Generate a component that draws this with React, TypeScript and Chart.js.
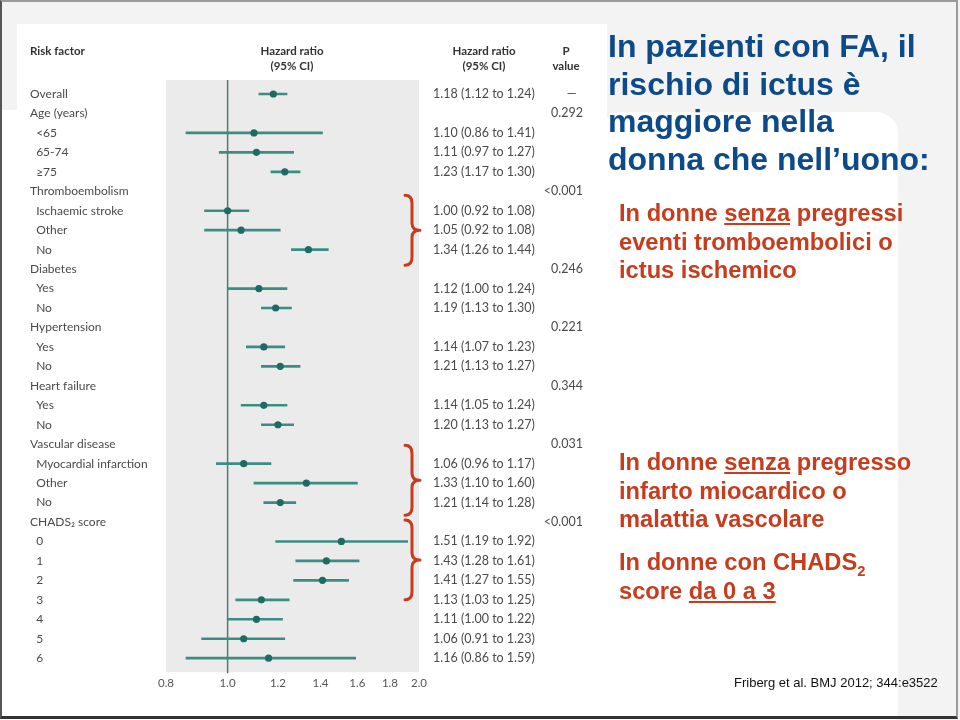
import React, { useEffect, useRef } from "react";
import { Chart, registerables } from "chart.js";

Chart.register(...registerables);

// ---- data ----
const rowLabels = [
  "Overall", "Age (years)", "<65", "65-74", "≥75",
  "Thromboembolism", "Ischaemic stroke", "Other", "No",
  "Diabetes", "Yes", "No",
  "Hypertension", "Yes", "No",
  "Heart failure", "Yes", "No",
  "Vascular disease", "Myocardial infarction", "Other", "No",
  "CHADS₂ score", "0", "1", "2", "3", "4", "5", "6",
];
const rowIndent = [0, 0, 1, 1, 1, 0, 1, 1, 1, 0, 1, 1, 0, 1, 1, 0, 1, 1, 0, 1, 1, 1, 0, 1, 1, 1, 1, 1, 1, 1];
const hrValues = [1.18, null, 1.10, 1.11, 1.23, null, 1.00, 1.05, 1.34, null, 1.12, 1.19, null, 1.14, 1.21, null, 1.14, 1.20, null, 1.06, 1.33, 1.21, null, 1.51, 1.43, 1.41, 1.13, 1.11, 1.06, 1.16];
const ciLow = [1.12, null, 0.86, 0.97, 1.17, null, 0.92, 0.92, 1.26, null, 1.00, 1.13, null, 1.07, 1.13, null, 1.05, 1.13, null, 0.96, 1.10, 1.14, null, 1.19, 1.28, 1.27, 1.03, 1.00, 0.91, 0.86];
const ciHigh = [1.24, null, 1.41, 1.27, 1.30, null, 1.08, 1.21, 1.44, null, 1.24, 1.26, null, 1.23, 1.30, null, 1.24, 1.27, null, 1.17, 1.60, 1.28, null, 1.92, 1.61, 1.55, 1.25, 1.22, 1.23, 1.59];
const hrText = [
  "1.18 (1.12 to 1.24)", "", "1.10 (0.86 to 1.41)", "1.11 (0.97 to 1.27)", "1.23 (1.17 to 1.30)",
  "", "1.00 (0.92 to 1.08)", "1.05 (0.92 to 1.08)", "1.34 (1.26 to 1.44)",
  "", "1.12 (1.00 to 1.24)", "1.19 (1.13 to 1.30)",
  "", "1.14 (1.07 to 1.23)", "1.21 (1.13 to 1.27)",
  "", "1.14 (1.05 to 1.24)", "1.20 (1.13 to 1.27)",
  "", "1.06 (0.96 to 1.17)", "1.33 (1.10 to 1.60)", "1.21 (1.14 to 1.28)",
  "", "1.51 (1.19 to 1.92)", "1.43 (1.28 to 1.61)", "1.41 (1.27 to 1.55)", "1.13 (1.03 to 1.25)",
  "1.11 (1.00 to 1.22)", "1.06 (0.91 to 1.23)", "1.16 (0.86 to 1.59)",
];
const pText = [
  "—\u2002", "0.292", "", "", "", "<0.001", "", "", "", "0.246", "", "", "0.221", "", "",
  "0.344", "", "", "0.031", "", "", "", "<0.001", "", "", "", "", "", "", "",
];
const xTicks = [0.8, 1.0, 1.2, 1.4, 1.6, 1.8, 2.0];
const braceRows = [[5.2, 8.8], [18.05, 21.65], [21.9, 26.0]];

const Y_MIN = -0.72;
const Y_MAX = 29.72;

export default function App() {
  const ref = useRef<HTMLCanvasElement>(null);

  useEffect(() => {
    const rows = rowLabels.map((_, i) => i);
    const pts: any[] = [];
    const bars: any[] = [];
    rows.forEach((i) => {
      if (hrValues[i] != null) {
        pts.push({ x: hrValues[i], y: i });
        bars.push({ x: [ciLow[i], ciHigh[i]], y: i });
      }
    });
    const setRowTicks = (s: any) => {
      s.ticks = rows.map((v) => ({ value: v }));
    };

    const bgPlugin = {
      id: "plotBg",
      beforeDraw(c: any) {
        const { ctx, chartArea: a } = c;
        ctx.save();
        ctx.fillStyle = "#ebebeb";
        ctx.fillRect(a.left, a.top, a.right - a.left, a.bottom - a.top);
        ctx.restore();
      },
      beforeDatasetsDraw(c: any) {
        const { ctx, chartArea: a } = c;
        const x = c.scales.x.getPixelForValue(1.0);
        ctx.save();
        ctx.strokeStyle = "#4a7d76";
        ctx.lineWidth = 1.5;
        ctx.beginPath();
        ctx.moveTo(x, a.top);
        ctx.lineTo(x, a.bottom + 1);
        ctx.stroke();
        ctx.restore();
      },
      afterDraw(c: any) {
        const { ctx, chartArea: a } = c;
        const ys = c.scales.y;
        ctx.save();
        ctx.strokeStyle = "#c63c1c";
        ctx.lineWidth = 3;
        ctx.lineCap = "round";
        ctx.lineJoin = "round";
        braceRows.forEach(([r0, r1]) => {
          const top = ys.getPixelForValue(r0);
          const bottom = ys.getPixelForValue(r1);
          const mid = (top + bottom) / 2;
          const x = a.right - 14;
          const w = 7;
          ctx.beginPath();
          ctx.moveTo(x, top);
          ctx.quadraticCurveTo(x + w, top, x + w, top + 8);
          ctx.lineTo(x + w, mid - 7);
          ctx.quadraticCurveTo(x + w, mid, x + w + 8, mid);
          ctx.quadraticCurveTo(x + w, mid, x + w, mid + 7);
          ctx.lineTo(x + w, bottom - 8);
          ctx.quadraticCurveTo(x + w, bottom, x, bottom);
          ctx.stroke();
        });
        ctx.restore();
      },
    };

    const rowAxisBase = {
      type: "linear",
      min: Y_MIN,
      max: Y_MAX,
      reverse: true,
      offset: false,
      grid: { display: false, drawTicks: false, offset: false },
      border: { display: false },
      afterBuildTicks: setRowTicks,
    };

    const chart = new Chart(ref.current as HTMLCanvasElement, {
      type: "bar",
      data: {
        datasets: [
          {
            type: "bar",
            data: bars,
            backgroundColor: "#3a8d84",
            borderWidth: 0,
            barThickness: 2,
            grouped: false,
            xAxisID: "x",
            yAxisID: "y",
            order: 2,
          } as any,
          {
            type: "scatter",
            data: pts,
            pointRadius: 3.6,
            pointStyle: "circle",
            backgroundColor: "#1d6b63",
            borderWidth: 0,
            xAxisID: "x",
            yAxisID: "y",
            order: 1,
          } as any,
        ],
      },
      options: {
        indexAxis: "y",
        animation: false,
        responsive: false,
        layout: { padding: { left: 30, right: 377, top: 80, bottom: 26 } },
        plugins: { legend: { display: false }, tooltip: { enabled: false } },
        scales: {
          x: {
            type: "logarithmic",
            position: "bottom",
            min: 0.8,
            max: 2.0,
            offset: false,
            grid: { display: false, drawTicks: false },
            border: { display: false },
            afterBuildTicks: (s: any) => {
              s.ticks = xTicks.map((v) => ({ value: v }));
            },
            ticks: {
              autoSkip: false,
              maxRotation: 0,
              padding: 4,
              font: { family: "Lato", size: 11.5 },
              color: "#555",
              callback: (v: any) => Number(v).toFixed(1),
            },
          },
          y: {
            ...rowAxisBase,
            position: "left",
            afterFit: (s: any) => {
              s.width = 136;
            },
            ticks: {
              autoSkip: false,
              crossAlign: "far",
              font: { family: "Lato", size: 12 },
              color: "#4a4a4a",
              callback: (v: any) => (rowIndent[v] ? "  " : "") + rowLabels[v],
            },
          },
          y2: {
            ...rowAxisBase,
            position: "right",
            weight: 0,
            afterFit: (s: any) => {
              s.width = 120;
            },
            ticks: {
              autoSkip: false,
              crossAlign: "near",
              padding: 14,
              font: { family: "Lato", size: 12.5 },
              color: "#4a4a4a",
              callback: (v: any) => hrText[v],
            },
          },
          y3: {
            ...rowAxisBase,
            position: "right",
            weight: 1,
            afterFit: (s: any) => {
              s.width = 44;
            },
            ticks: {
              autoSkip: false,
              crossAlign: "far",
              font: { family: "Lato", size: 12.5 },
              color: "#4a4a4a",
              callback: (v: any) => pText[v],
            },
          },
        } as any,
      },
      plugins: [bgPlugin],
    } as any);
    return () => chart.destroy();
  }, []);

  const hdr: React.CSSProperties = {
    position: "absolute",
    fontFamily: "Lato, sans-serif",
    fontWeight: 700,
    fontSize: 11.5,
    color: "#333",
    lineHeight: "15px",
    textAlign: "center",
  };
  const red: React.CSSProperties = {
    position: "absolute",
    fontFamily: "'Liberation Sans', Arial, sans-serif",
    fontWeight: 700,
    fontSize: 23.7,
    lineHeight: "28.5px",
    color: "#c63c1c",
    whiteSpace: "nowrap",
  };

  return (
    <div style={{ position: "fixed", left: 0, top: 0, width: 960, height: 720, background: "#f3f3f3", overflow: "hidden" }}>
      <div style={{ position: "absolute", left: 17, top: 24, width: 590, height: 696, background: "#fff" }} />
      <div style={{ position: "absolute", left: 0, top: 110, width: 20, height: 610, background: "#fff" }} />
      <div style={{ position: "absolute", left: 600, top: 112, width: 298, height: 620, background: "#fff", borderRadius: 22 }} />
      <canvas ref={ref} width={960} height={720} style={{ position: "absolute", left: 0, top: 0, width: 960, height: 720 }} />

      <div style={{ ...hdr, left: 30, top: 43, textAlign: "left" }}>Risk factor</div>
      <div style={{ ...hdr, left: 232, top: 43, width: 120 }}>Hazard ratio<br />(95% CI)</div>
      <div style={{ ...hdr, left: 424, top: 43, width: 120 }}>Hazard ratio<br />(95% CI)</div>
      <div style={{ ...hdr, left: 536, top: 43, width: 60 }}>P<br />value</div>

      <div
        style={{
          position: "absolute",
          left: 608,
          top: 28,
          fontFamily: "'Liberation Sans', Arial, sans-serif",
          fontWeight: 700,
          fontSize: 32,
          lineHeight: "37.5px",
          color: "#0d4a8a",
          whiteSpace: "nowrap",
        }}
      >
        In pazienti con FA, il<br />rischio di ictus è<br />maggiore nella<br />donna che nell’uono:
      </div>

      <div style={{ ...red, left: 619, top: 199 }}>
        In donne <u>senza</u> pregressi<br />eventi tromboembolici o<br />ictus ischemico
      </div>
      <div style={{ ...red, left: 619, top: 448 }}>
        In donne <u>senza</u> pregresso<br />infarto miocardico o<br />malattia vascolare
      </div>
      <div style={{ ...red, left: 619, top: 548 }}>
        In donne con CHADS<sub style={{ fontSize: "0.62em", lineHeight: 0 }}>2</sub>
        <br />score <u>da 0 a 3</u>
      </div>

      <div
        style={{
          position: "absolute",
          left: 734,
          top: 675,
          fontFamily: "'Liberation Sans', Arial, sans-serif",
          fontSize: 13,
          lineHeight: "16px",
          color: "#111",
          whiteSpace: "nowrap",
        }}
      >
        Friberg et al. BMJ 2012; 344:e3522
      </div>

      <div
        style={{
          position: "absolute",
          left: 0,
          top: 0,
          width: 958,
          height: 719,
          boxSizing: "border-box",
          borderTop: "2px solid #9a9a9a",
          borderRight: "2px solid #9a9a9a",
          borderBottom: "3px solid #333",
          borderLeft: "2px solid #555",
        }}
      />
    </div>
  );
}
